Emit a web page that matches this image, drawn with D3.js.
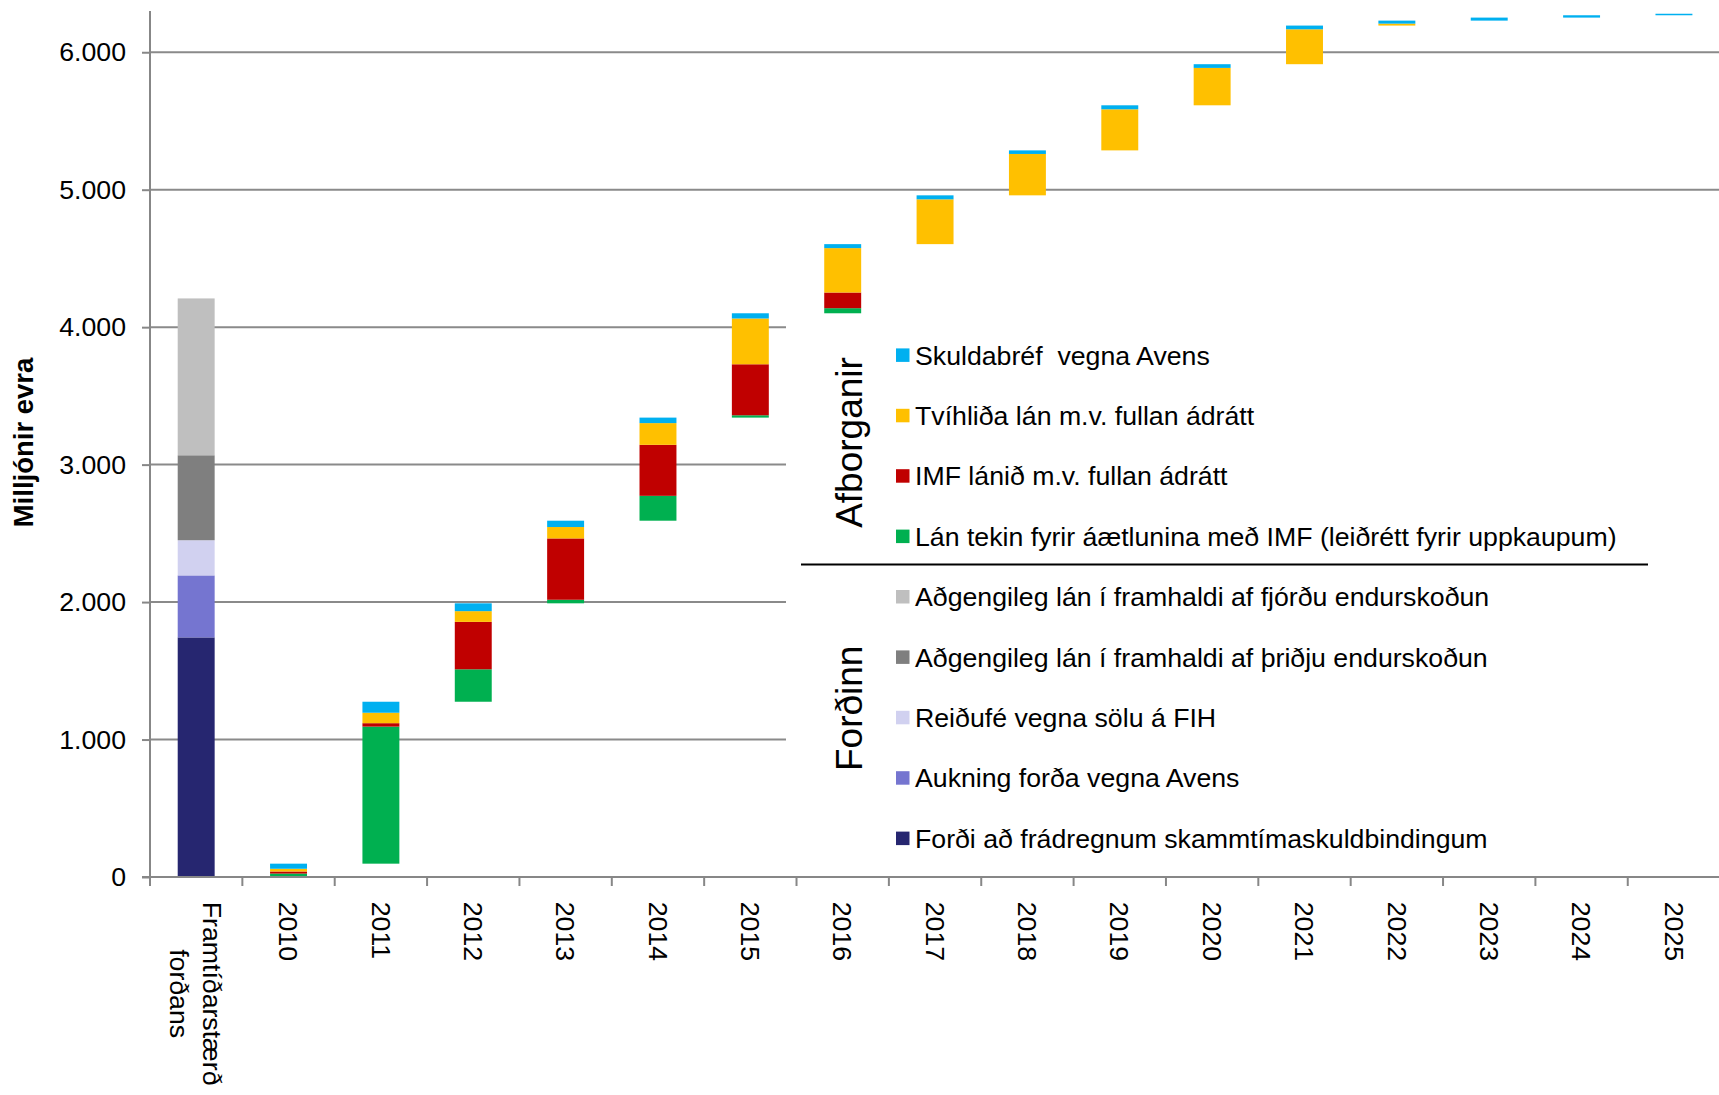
<!DOCTYPE html>
<html>
<head>
<meta charset="utf-8">
<script src="https://cdn.jsdelivr.net/npm/d3@7"></script>
<style>
  html, body { margin: 0; padding: 0; background: #fff; }
  svg { display: block; font-family: "Liberation Sans", Arial, sans-serif; }
</style>
</head>
<body>
<svg id="chart" width="1719" height="1095"></svg>
<script>
// ---------------- DATA ----------------
const categories = ["Framtíðarstærð forðans", "2010", "2011", "2012", "2013", "2014", "2015", "2016",
  "2017", "2018", "2019", "2020", "2021", "2022", "2023", "2024", "2025"];

// Forðinn (reserve) – only the first category
const reserveNames = [
  "Forði að frádregnum skammtímaskuldbindingum",
  "Aukning forða vegna Avens",
  "Reiðufé vegna sölu á FIH",
  "Aðgengileg lán í framhaldi af þriðju endurskoðun",
  "Aðgengileg lán í framhaldi af fjórðu endurskoðun"
];
const reserveValues = [1743, 451, 256, 618, 1141];
const reserveColors = ["#262670", "#7575D0", "#D1D1F0", "#7F7F7F", "#BFBFBF"];

// Afborganir (repayments) 2010–2025
const years = ["2010", "2011", "2012", "2013", "2014", "2015", "2016", "2017",
  "2018", "2019", "2020", "2021", "2022", "2023", "2024", "2025"];
const lanTekin   = [25, 997, 236, 26, 181, 17, 37, 0, 0, 0, 0, 0, 0, 0, 0, 0];
const imfLan     = [15, 25, 345, 446, 371, 371, 114, 0, 0, 0, 0, 0, 0, 0, 0, 0];
const tvihlida   = [20, 76, 78, 83, 158, 333, 323, 326, 301, 299, 272, 254, 14, 0, 0, 0];
const skuldabref = [37, 80, 57, 46, 40, 38, 29, 29, 26, 29, 27, 27, 22, 22, 17, 11];
const repayNames = [
  "Lán tekin fyrir áætlunina með IMF (leiðrétt fyrir uppkaupum)",
  "IMF lánið m.v. fullan ádrátt",
  "Tvíhliða lán m.v. fullan ádrátt",
  "Skuldabréf  vegna Avens"
];
const repayColors = ["#00B050", "#C00000", "#FFC000", "#00B0F0"];

const yTicks = [0, 1000, 2000, 3000, 4000, 5000, 6000];
const yTitle = "Milljónir evra";
const groupLabels = ["Afborganir", "Forðinn"];

// ---------------- BUILD TABLE ----------------
const repaySeries = [lanTekin, imfLan, tvihlida, skuldabref];
const yearTotals = years.map((_, i) => repaySeries.reduce((s, a) => s + a[i], 0));
const cumulative = Array.from(d3.cumsum(yearTotals));

const keys = ["base", "r0", "r1", "r2", "r3", "r4", "p0", "p1", "p2", "p3"];
const colorByKey = {
  r0: reserveColors[0], r1: reserveColors[1], r2: reserveColors[2], r3: reserveColors[3], r4: reserveColors[4],
  p0: repayColors[0], p1: repayColors[1], p2: repayColors[2], p3: repayColors[3]
};
const table = categories.map((c, ci) => {
  const row = { cat: c };
  keys.forEach(k => row[k] = 0);
  if (ci === 0) {
    reserveValues.forEach((v, j) => row["r" + j] = v);
  } else {
    const i = ci - 1;
    row.base = i === 0 ? 0 : cumulative[i - 1];
    repaySeries.forEach((arr, j) => row["p" + j] = arr[i]);
  }
  return row;
});
const stacked = d3.stack().keys(keys)(table);

// ---------------- LAYOUT ----------------
const svg = d3.select("#chart");
const plotLeft = 150, plotTop = 11, plotBottom = 877;
const step = 92.36;
const plotRight = plotLeft + step * categories.length;
const fontSize = 26.7;

const x = d3.scaleBand().domain(categories).range([plotLeft, plotRight]).padding(0);
const y = d3.scaleLinear().domain([0, 6300]).range([plotBottom, plotTop]);
const fmt = d3.formatLocale({ decimal: ",", thousands: ".", grouping: [3], currency: ["", ""] }).format(",");
const axisColor = "#878787";

// gridlines
svg.append("g").selectAll("line").data(yTicks.filter(t => t > 0)).join("line")
  .attr("x1", plotLeft).attr("x2", 1719)
  .attr("y1", d => y(d)).attr("y2", d => y(d))
  .attr("stroke", "#8a8a8a").attr("stroke-width", 2);

// bars
const barW = x.bandwidth() * 0.4;
svg.append("g").selectAll("g").data(stacked.filter(s => s.key !== "base")).join("g")
  .attr("fill", s => colorByKey[s.key])
  .selectAll("rect").data(s => s.filter(d => d[1] - d[0] > 0)).join("rect")
  .attr("x", d => x(d.data.cat) + (x.bandwidth() - barW) / 2)
  .attr("width", barW)
  .attr("y", d => y(d[1]))
  .attr("height", d => y(d[0]) - y(d[1]));

// legend box (white)
const lg = svg.append("g");
lg.append("rect").attr("x", 786).attr("y", 318).attr("width", 1719 - 786).attr("height", 862 - 318).attr("fill", "#fff");

const legendItems = [
  { name: repayNames[3], color: repayColors[3] },
  { name: repayNames[2], color: repayColors[2] },
  { name: repayNames[1], color: repayColors[1] },
  { name: repayNames[0], color: repayColors[0] },
  { name: reserveNames[4], color: reserveColors[4] },
  { name: reserveNames[3], color: reserveColors[3] },
  { name: reserveNames[2], color: reserveColors[2] },
  { name: reserveNames[1], color: reserveColors[1] },
  { name: reserveNames[0], color: reserveColors[0] }
];
const li = lg.selectAll("g.item").data(legendItems).join("g").attr("class", "item")
  .attr("transform", (d, i) => `translate(0,${355.2 + i * 60.4})`);
li.append("rect").attr("x", 896).attr("y", -6.8).attr("width", 13.5).attr("height", 13.5).attr("fill", d => d.color);
li.append("text").attr("x", 915).attr("dy", "0.35em").attr("font-size", fontSize).attr("fill", "#000")
  .style("white-space", "pre").text(d => d.name);

lg.append("line").attr("x1", 801).attr("x2", 1648).attr("y1", 564.6).attr("y2", 564.6)
  .attr("stroke", "#000").attr("stroke-width", 2);

lg.append("text").attr("transform", "translate(862,442.5) rotate(-90)")
  .attr("text-anchor", "middle").attr("font-size", 37).text(groupLabels[0]);
lg.append("text").attr("transform", "translate(862,708.3) rotate(-90)")
  .attr("text-anchor", "middle").attr("font-size", 37).text(groupLabels[1]);

// y axis
const yAxis = d3.axisLeft(y).tickValues(yTicks).tickSize(8).tickPadding(16).tickFormat(fmt);
const ya = svg.append("g").attr("transform", `translate(${plotLeft},0)`).call(yAxis);
ya.select(".domain").remove();
ya.selectAll(".tick line").attr("stroke", axisColor).attr("stroke-width", 2);
ya.selectAll(".tick text").attr("font-size", fontSize).attr("fill", "#000")
  .attr("font-family", "'Liberation Sans', Arial, sans-serif");
svg.append("line").attr("x1", plotLeft).attr("x2", plotLeft).attr("y1", plotTop).attr("y2", plotBottom + 9)
  .attr("stroke", axisColor).attr("stroke-width", 2);

// x axis line
svg.append("line").attr("x1", plotLeft - 8).attr("x2", 1719).attr("y1", plotBottom).attr("y2", plotBottom)
  .attr("stroke", axisColor).attr("stroke-width", 2);
// category boundary ticks
svg.append("g").selectAll("line").data(categories).join("line")
  .attr("x1", d => x(d)).attr("x2", d => x(d))
  .attr("y1", plotBottom).attr("y2", plotBottom + 9)
  .attr("stroke", axisColor).attr("stroke-width", 2);

// x labels (rotated, reading downward)
const labelTop = 901.7;
categories.forEach(c => {
  const lines = c === categories[0] ? ["Framtíðarstærð", "forðans"] : [c];
  const g = svg.append("g").attr("transform", `translate(${x(c) + x.bandwidth() / 2},${labelTop}) rotate(90)`);
  const t = g.append("text").attr("font-size", fontSize).attr("fill", "#000");
  if (lines.length === 1) {
    t.attr("dy", "0.35em").text(lines[0]);
  } else {
    const n = lines.length;
    const lh = 33;
    const tsp = lines.map((ln, k) => t.append("tspan").attr("x", 0)
      .attr("y", (k - (n - 1) / 2) * lh + 9.5).text(ln));
    const maxLen = d3.max(tsp, s => s.node().getComputedTextLength());
    t.attr("text-anchor", "middle");
    tsp.forEach(s => s.attr("x", maxLen / 2));
  }
});

// y title
svg.append("text").attr("transform", "translate(33,442.5) rotate(-90)")
  .attr("text-anchor", "middle").attr("font-size", 27.5).attr("font-weight", "bold").text(yTitle);
</script>
</body>
</html>
